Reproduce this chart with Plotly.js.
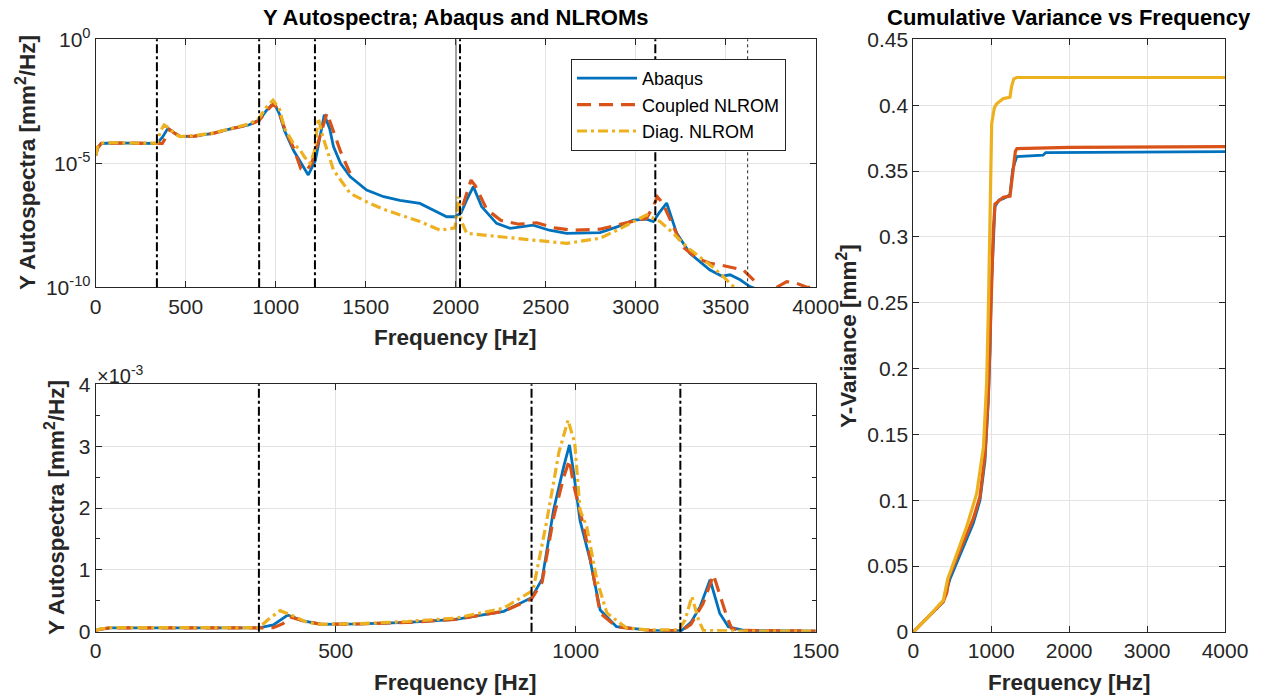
<!DOCTYPE html>
<html>
<head>
<meta charset="utf-8">
<script src="https://cdn.plot.ly/plotly-3.0.1.min.js"></script>
<style>html,body{margin:0;padding:0;background:#fff;}#chart{width:1265px;height:696px;}</style>
</head>
<body>
<div id="chart"></div>
<script>
// ---------- Top plot: autospectra (log scale), 0-4000 Hz ----------
const topFreqAbaqus = [0,10,30,100,200,300,340,370,400,430,470,550,650,765,850,908,950,990,1020,1050,1100,1150,1181,1220,1250,1270,1300,1321,1360,1413,1505,1600,1690,1801,1880,1950,1996,2030,2060,2098,2144,2227,2302,2430,2520,2616,2802,2900,2987,3060,3098,3130,3172,3228,3302,3413,3480,3524,3580,3635,3680];
const topAbaqus = [2.1e-5,4e-5,6.3e-5,6.6e-5,6.5e-5,6.3e-5,6.3e-5,1.1e-4,2.5e-4,1.8e-4,1.2e-4,1.25e-4,1.6e-4,2.6e-4,3.5e-4,5.5e-4,1.4e-3,2.8e-3,1e-3,2e-4,3.2e-5,8e-6,3.4e-6,1.26e-5,2e-4,9e-4,2.5e-4,4.7e-5,1e-5,2.9e-6,8.3e-7,4.5e-7,3.2e-7,2.4e-7,1.26e-7,7e-8,7e-8,1e-7,3.2e-7,1.15e-6,1.8e-7,3.8e-8,2.4e-8,3.2e-8,2e-8,1.5e-8,1.6e-8,2.8e-8,5.1e-8,5.6e-8,4.5e-8,1e-7,2.5e-7,1.5e-8,2.3e-9,5e-10,2.8e-10,3.2e-10,2e-10,1.07e-10,8e-11];

const topFreqCoupled = [0,10,30,100,200,300,340,370,390,410,440,470,550,650,765,850,908,950,990,1020,1050,1100,1140,1170,1200,1240,1285,1320,1360,1413,1420,2040,2085,2110,2172,2250,2350,2450,2550,2650,2800,2950,3060,3100,3120,3150,3209,3260,3340,3413,3469,3543,3598,3654,3680,3700,3783,3839,3895,3950,4000];
const topCoupled = [2.1e-5,4e-5,6.3e-5,6.6e-5,6.5e-5,6.3e-5,6.0e-5,6.3e-5,1.1e-4,2.3e-4,1.6e-4,1.2e-4,1.25e-4,1.6e-4,2.6e-4,3.5e-4,5.3e-4,1.3e-3,2.6e-3,1.1e-3,2.5e-4,4e-5,6e-6,5e-6,1e-5,1e-4,1.05e-3,2e-4,3e-5,4e-6,null,2e-7,2.1e-6,1.2e-6,1.4e-7,5e-8,3.5e-8,4e-8,2.5e-8,2e-8,2.2e-8,4e-8,6e-8,2e-7,4.5e-7,2.5e-7,2.6e-8,4.3e-9,1.5e-9,9.3e-10,8e-10,6.3e-10,5e-10,2e-10,1.3e-10,null,1e-10,1.7e-10,1.45e-10,1e-10,1e-10];

const topFreqDiag = [0,10,30,100,200,300,340,360,380,410,440,470,550,650,765,850,908,950,985,1020,1050,1100,1135,1160,1190,1215,1237,1260,1285,1321,1413,1505,1600,1690,1801,1913,1996,2015,2030,2061,2154,2300,2430,2616,2802,2895,2987,3061,3135,3209,3283,3357,3431,3487,3543,3560];
const topDiag = [2.1e-5,4.5e-5,6.5e-5,6.8e-5,6.6e-5,6.3e-5,6.5e-5,2e-4,3.5e-4,2.6e-4,1.5e-4,1.2e-4,1.3e-4,1.65e-4,2.7e-4,3.8e-4,6.5e-4,1.9e-3,3.5e-3,1.6e-3,2.5e-4,6e-5,3.5e-5,1.8e-5,1e-5,3e-5,6.6e-4,1.3e-4,3.5e-5,5.4e-6,6.2e-7,2.8e-7,1.4e-7,8.3e-8,4.5e-8,2e-8,2.5e-8,4.5e-7,5e-8,1.5e-8,1.3e-8,1e-8,8e-9,5.9e-9,9.5e-9,2e-8,4.5e-8,8.3e-8,4.5e-8,1.5e-8,4.3e-9,1.7e-9,6.3e-10,2.7e-10,1e-10,8e-11];

const topModeFreqs = [340, 908, 1218, 2024, 3109];
const topThinFreqs = [2002];
const topDottedFreqs = [3622];
const topYTickVals = [1, 1e-5, 1e-10];
const topYTickText = ['10<sup>0</sup>', '10<sup>-5</sup>', '10<sup>-10</sup>'];

// ---------- Bottom plot: autospectra (linear, x10^-3), 0-1500 Hz ----------
const botFreqAbaqus = [0,10,30,100,200,300,340,370,400,430,470,550,650,750,850,908,930,954,975,987,995,1009,1030,1051,1085,1155,1220,1240,1259,1280,1300,1318,1350,1500];
const botAbaqus = [0.02,0.04,0.063,0.066,0.065,0.063,0.063,0.11,0.27,0.18,0.12,0.125,0.15,0.2,0.33,0.55,0.85,1.97,2.67,3.02,2.61,1.8,1.16,0.35,0.08,0.02,0.015,0.15,0.4,0.84,0.3,0.08,0.02,0.01];
const botFreqCoupled = [0,10,30,100,200,300,340,370,390,405,430,470,550,650,750,850,908,930,954,975,987,995,1015,1030,1051,1085,1155,1220,1240,1265,1287,1315,1325,1350,1500];
const botCoupled = [0.02,0.04,0.063,0.066,0.065,0.063,0.06,0.065,0.13,0.24,0.18,0.12,0.125,0.15,0.2,0.33,0.53,0.8,1.85,2.5,2.78,2.4,1.75,1.2,0.3,0.08,0.02,0.015,0.12,0.45,0.92,0.24,0.05,0.02,0.01];
const botFreqDiag = [0,10,30,100,200,300,340,360,384,410,440,470,550,650,750,850,911,939,965,984,998,1009,1023,1044,1065,1106,1150,1215,1228,1242,1256,1266,1350,1500];
const botDiag = [0.02,0.045,0.065,0.068,0.066,0.063,0.065,0.2,0.34,0.26,0.15,0.12,0.13,0.165,0.22,0.38,0.67,1.76,2.9,3.42,3.05,1.97,1.7,0.84,0.3,0.06,0.03,0.03,0.19,0.57,0.19,0.02,0.01,0.01];
const botModeFreqs = [340, 908, 1218];
const botYTickVals = [0, 1, 2, 3, 4];

// ---------- Right plot: cumulative variance ----------
const cumFreqAbaqus = [0,200,385,470,642,770,856,920,963,985,1000,1027,1048,1100,1155,1241,1275,1327,1665,1700,4000];
const cumAbaqus = [0,0.012,0.023,0.04,0.065,0.0825,0.1,0.13,0.176,0.214,0.26,0.303,0.323,0.328,0.329,0.332,0.351,0.361,0.362,0.364,0.3647];
const cumFreqCoupled = [0,200,385,430,460,642,770,856,920,963,985,1000,1027,1048,1155,1241,1275,1310,1330,2000,4000];
const cumCoupled = [0,0.012,0.023,0.03,0.042,0.068,0.086,0.103,0.135,0.18,0.22,0.265,0.305,0.325,0.33,0.331,0.35,0.365,0.367,0.368,0.3685];
const cumFreqDiag = [0,200,385,440,685,813,900,941,965,990,1006,1040,1070,1155,1241,1260,1290,1327,4000];
const cumDiag = [0,0.012,0.024,0.04,0.08,0.105,0.14,0.189,0.25,0.34,0.386,0.398,0.401,0.405,0.406,0.414,0.42,0.421,0.421];

const seriesNames = ['Abaqus', 'Coupled NLROM', 'Diag. NLROM'];
const colors = ['#0072BD', '#D95319', '#EDB120'];

const FONT = 'Liberation Sans, Arial, Helvetica, sans-serif';
const TXT = '#262626';

function ln(i, dash, w) {
  return {color: colors[i], width: w, dash: dash};
}

const traces = [
  {x: topFreqAbaqus, y: topAbaqus, name: seriesNames[0], type: 'scatter', mode: 'lines', line: ln(0, 'solid', 2.8), xaxis: 'x', yaxis: 'y', legendrank: 1},
  {x: topFreqCoupled, y: topCoupled, name: seriesNames[1], type: 'scatter', mode: 'lines', line: ln(1, '14px,8px', 3.2), xaxis: 'x', yaxis: 'y', legendrank: 2},
  {x: topFreqDiag, y: topDiag, name: seriesNames[2], type: 'scatter', mode: 'lines', line: ln(2, '10px,4px,3px,4px', 3.2), xaxis: 'x', yaxis: 'y', legendrank: 3},

  {x: botFreqAbaqus, y: botAbaqus, name: seriesNames[0], showlegend: false, type: 'scatter', mode: 'lines', line: ln(0, 'solid', 2.8), xaxis: 'x2', yaxis: 'y2'},
  {x: botFreqCoupled, y: botCoupled, name: seriesNames[1], showlegend: false, type: 'scatter', mode: 'lines', line: ln(1, '14px,8px', 3.2), xaxis: 'x2', yaxis: 'y2'},
  {x: botFreqDiag, y: botDiag, name: seriesNames[2], showlegend: false, type: 'scatter', mode: 'lines', line: ln(2, '10px,4px,3px,4px', 3.2), xaxis: 'x2', yaxis: 'y2'},

  {x: cumFreqAbaqus, y: cumAbaqus, name: seriesNames[0], showlegend: false, type: 'scatter', mode: 'lines', line: ln(0, 'solid', 2.8), xaxis: 'x3', yaxis: 'y3'},
  {x: cumFreqCoupled, y: cumCoupled, name: seriesNames[1], showlegend: false, type: 'scatter', mode: 'lines', line: ln(1, 'solid', 3.2), xaxis: 'x3', yaxis: 'y3'},
  {x: cumFreqDiag, y: cumDiag, name: seriesNames[2], showlegend: false, type: 'scatter', mode: 'lines', line: ln(2, 'solid', 3.2), xaxis: 'x3', yaxis: 'y3'}
];

const W = 1265, H = 696;
const px = v => v / W;
const py = v => (H - v) / H;

const axBase = {
  showline: true, linecolor: TXT, linewidth: 1, mirror: 'ticks',
  ticks: 'inside', ticklen: 6, tickcolor: TXT, tickwidth: 1,
  showgrid: true, gridcolor: '#e3e3e3', gridwidth: 1,
  zeroline: false,
  tickfont: {family: FONT, size: 21, color: TXT},
  automargin: false
};

const shapes = [];
topModeFreqs.forEach(f => shapes.push({type: 'line', xref: 'x', yref: 'y domain', x0: f, x1: f, y0: 0, y1: 1, line: {color: '#000', width: 2, dash: 'dashdot'}}));
topThinFreqs.forEach(f => shapes.push({type: 'line', xref: 'x', yref: 'y domain', x0: f, x1: f, y0: 0, y1: 1, line: {color: '#555', width: 1, dash: 'solid'}}));
topDottedFreqs.forEach(f => shapes.push({type: 'line', xref: 'x', yref: 'y domain', x0: f, x1: f, y0: 0, y1: 1, line: {color: '#222', width: 1, dash: 'dot'}}));
botModeFreqs.forEach(f => shapes.push({type: 'line', xref: 'x2', yref: 'y2 domain', x0: f, x1: f, y0: 0, y1: 1, line: {color: '#000', width: 2, dash: 'dashdot'}}));

const titleFont = {family: FONT, size: 22, color: '#000', weight: 'bold'};
const labelFont = {family: FONT, size: 22.5, color: TXT, weight: 'bold'};

const annotations = [
  {text: '<b>Y Autospectra; Abaqus and NLROMs</b>', xref: 'paper', yref: 'paper', x: px(455.7), y: py(18), xanchor: 'center', yanchor: 'middle', showarrow: false, font: titleFont},
  {text: '<b>Cumulative Variance vs Frequency</b>', xref: 'paper', yref: 'paper', x: px(1069), y: py(18), xanchor: 'center', yanchor: 'middle', showarrow: false, font: titleFont},
  {text: '<b>Frequency [Hz]</b>', xref: 'paper', yref: 'paper', x: px(455.7), y: py(337), xanchor: 'center', yanchor: 'middle', showarrow: false, font: labelFont},
  {text: '<b>Frequency [Hz]</b>', xref: 'paper', yref: 'paper', x: px(455.7), y: py(682), xanchor: 'center', yanchor: 'middle', showarrow: false, font: labelFont},
  {text: '<b>Frequency [Hz]</b>', xref: 'paper', yref: 'paper', x: px(1069), y: py(682), xanchor: 'center', yanchor: 'middle', showarrow: false, font: labelFont},
  {text: '<b>Y Autospectra [mm<sup>2</sup>/Hz]</b>', xref: 'paper', yref: 'paper', x: px(26), y: py(163), xanchor: 'center', yanchor: 'middle', textangle: -90, showarrow: false, font: labelFont},
  {text: '<b>Y Autospectra [mm<sup>2</sup>/Hz]</b>', xref: 'paper', yref: 'paper', x: px(55), y: py(508), xanchor: 'center', yanchor: 'middle', textangle: -90, showarrow: false, font: labelFont},
  {text: '<b>Y-Variance [mm<sup>2</sup>]</b>', xref: 'paper', yref: 'paper', x: px(847), y: py(336), xanchor: 'center', yanchor: 'middle', textangle: -90, showarrow: false, font: labelFont},
  {text: '×10<sup>-3</sup>', xref: 'paper', yref: 'paper', x: px(95), y: py(374), xanchor: 'left', yanchor: 'middle', showarrow: false, font: {family: FONT, size: 20, color: TXT}}
];

const layout = {
  width: W, height: H,
  margin: {l: 0, r: 0, t: 0, b: 0},
  paper_bgcolor: '#fff', plot_bgcolor: '#fff',
  font: {family: FONT, color: TXT},
  showlegend: true,
  legend: {
    x: px(571), y: py(59), xanchor: 'left', yanchor: 'top',
    bgcolor: '#fff', bordercolor: TXT, borderwidth: 1,
    font: {family: FONT, size: 18, color: '#000'},
    itemwidth: 60,
    tracegroupgap: 0
  },
  xaxis: Object.assign({}, axBase, {domain: [px(95.7), px(815.7)], range: [0, 4000], tickvals: [0,500,1000,1500,2000,2500,3000,3500,4000], anchor: 'y'}),
  yaxis: Object.assign({}, axBase, {domain: [py(287.3), py(39.3)], type: 'log', range: [-10, 0], tickvals: topYTickVals, ticktext: topYTickText, anchor: 'x'}),
  xaxis2: Object.assign({}, axBase, {domain: [px(95.7), px(815.7)], range: [0, 1500], tickvals: [0,500,1000,1500], anchor: 'y2'}),
  yaxis2: Object.assign({}, axBase, {domain: [py(631.7), py(384.3)], range: [0, 4], tickvals: botYTickVals, anchor: 'x2',
    minor: {dtick: 0.5, ticks: 'inside', ticklen: 4, tickcolor: TXT, showgrid: false}}),
  xaxis3: Object.assign({}, axBase, {domain: [px(913.3), px(1225)], range: [0, 4000], tickvals: [0,1000,2000,3000,4000], anchor: 'y3'}),
  yaxis3: Object.assign({}, axBase, {domain: [py(632), py(39.3)], range: [0, 0.45], tickvals: [0,0.05,0.1,0.15,0.2,0.25,0.3,0.35,0.4,0.45], ticktext: ['0','0.05','0.1','0.15','0.2','0.25','0.3','0.35','0.4','0.45'], anchor: 'x3'}),
  shapes: shapes,
  annotations: annotations
};

Plotly.newPlot('chart', traces, layout, {displayModeBar: false, staticPlot: true});
</script>
</body>
</html>
